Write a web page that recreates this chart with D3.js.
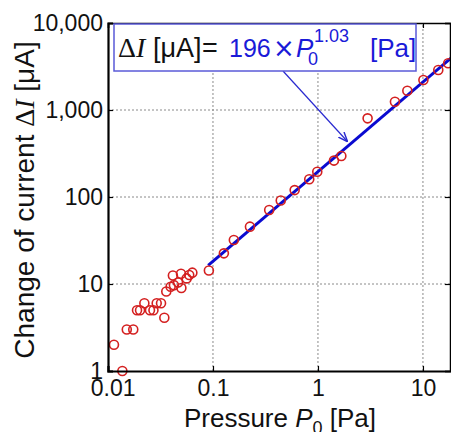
<!DOCTYPE html>
<html>
<head>
<meta charset="utf-8">
<script src="https://cdn.jsdelivr.net/npm/d3@7"></script>
<style>
  body { margin: 0; background: #fff; }
  svg { display: block; font-family: "Liberation Sans", Arial, sans-serif; }
</style>
</head>
<body>
<div id="chart"></div>
<script>
// measured points: pressure P0 [Pa] and change of current dI [uA]
var pressure = [0.0114, 0.0137, 0.0151, 0.0174, 0.0189, 0.0202, 0.0251, 0.0271,
  0.0222, 0.0291, 0.0320, 0.0344, 0.0359, 0.0395, 0.0415, 0.0425, 0.0465,
  0.0496, 0.0500, 0.0561, 0.0594, 0.0636,
  0.0914, 0.127, 0.158, 0.225, 0.343, 0.442, 0.600, 0.826, 0.985, 1.42, 1.67,
  2.97, 5.41, 7.1, 10.1, 14.0, 17.4];
var current = [2.0, 1.0, 3.0, 3.0, 5.0, 5.0, 5.0, 5.0,
  6.0, 6.0, 6.0, 4.1, 8.2, 9.3, 12.5, 9.7, 10.4,
  13.1, 9.0, 11.6, 12.7, 13.5,
  14.3, 22.5, 32, 45.6, 71, 91, 120, 160, 195, 262, 296,
  802, 1245, 1667, 2213, 2884, 3440];

// fitted power law dI = 196 * P0^1.03, drawn from P0 = 0.09
var fitCoef = 196, fitExp = 1.03, fitStart = 0.09;

var xTicks = [0.01, 0.1, 1, 10];
var xTickLabels = ["0.01", "0.1", "1", "10"];
var yTicks = [1, 10, 100, 1000, 10000];
var yTickLabels = ["1", "10", "100", "1,000", "10,000"];

var width = 451, height = 432;
var margin = {top: 23, left: 108, bottom: 61};
var xMax = 18.5;

var svg = d3.select("#chart").append("svg")
  .attr("width", width)
  .attr("height", height);

var x = d3.scaleLog().domain([0.01, xMax]).range([margin.left, 451]);
var y = d3.scaleLog().domain([1, 10000]).range([height - margin.bottom, margin.top]);

var plotRight = x.range()[1];

// dotted grid
svg.selectAll(".gridx")
  .data(xTicks.slice(1))
  .enter().append("line")
    .attr("x1", function(d){ return x(d); })
    .attr("x2", function(d){ return x(d); })
    .attr("y1", y(1)).attr("y2", y(10000))
    .attr("stroke", "#8a8a8a").attr("stroke-width", 1)
    .attr("stroke-dasharray", "2,2");

svg.selectAll(".gridy")
  .data(yTicks.slice(1, -1))
  .enter().append("line")
    .attr("y1", function(d){ return y(d); })
    .attr("y2", function(d){ return y(d); })
    .attr("x1", x(0.01)).attr("x2", plotRight)
    .attr("stroke", "#8a8a8a").attr("stroke-width", 1)
    .attr("stroke-dasharray", "2,2");

// fit line
var fitLine = d3.line()
  .x(function(d){ return x(d); })
  .y(function(d){ return y(fitCoef * Math.pow(d, fitExp)); });

svg.append("path")
  .datum([fitStart, xMax])
  .attr("d", fitLine)
  .attr("fill", "none")
  .attr("stroke", "#0a0ad0")
  .attr("stroke-width", 3);

// data circles
svg.selectAll(".pt")
  .data(pressure)
  .enter().append("circle")
    .attr("cx", function(d){ return x(d); })
    .attr("cy", function(d, i){ return y(current[i]); })
    .attr("r", 4.5)
    .attr("fill", "none")
    .attr("stroke", "#d42020")
    .attr("stroke-width", 1.6);

// axes
var xAxis = svg.append("g")
  .attr("transform", "translate(0," + y(1) + ")")
  .call(d3.axisBottom(x).tickValues(xTicks)
    .tickFormat(function(d, i){ return xTickLabels[i]; })
    .tickSize(-5).tickPadding(9));

var yAxis = svg.append("g")
  .attr("transform", "translate(" + x(0.01) + ",0)")
  .call(d3.axisLeft(y).tickValues(yTicks)
    .tickFormat(function(d, i){ return yTickLabels[i]; })
    .tickSize(-5).tickPadding(5));

var topAxis = svg.append("g")
  .attr("transform", "translate(0," + y(10000) + ")")
  .call(d3.axisTop(x).tickValues(xTicks).tickFormat("").tickSize(-5));

var rightAxis = svg.append("g")
  .attr("transform", "translate(" + (plotRight - 1) + ",0)")
  .call(d3.axisRight(y).tickValues(yTicks).tickFormat("").tickSize(-5));

[xAxis, yAxis].forEach(function(g){
  g.selectAll("text")
    .attr("font-family", "Liberation Sans, Arial, sans-serif")
    .attr("font-size", "23px")
    .attr("fill", "#111");
  g.select(".domain").attr("stroke", "#000").attr("stroke-width", 2.2);
  g.selectAll(".tick line").attr("stroke", "#000").attr("stroke-width", 1.2);
});
[topAxis, rightAxis].forEach(function(g){
  g.select(".domain").attr("stroke", "#000").attr("stroke-width", 1.5);
  g.selectAll(".tick line").attr("stroke", "#000").attr("stroke-width", 1.2);
});
xAxis.select(".tick text").attr("dx", "0.2em");

// axis titles
var ylab = svg.append("text")
  .attr("transform", "translate(34,200) rotate(-90)")
  .attr("text-anchor", "middle")
  .attr("font-size", "28px")
  .attr("fill", "#111");
ylab.append("tspan").text("Change of current ");
ylab.append("tspan").attr("font-family", "Liberation Serif, serif").text("Δ");
ylab.append("tspan").attr("font-family", "Liberation Serif, serif").attr("font-style", "italic").text("I");
ylab.append("tspan").text(" [μA]");

var xlab = svg.append("text")
  .attr("x", 280).attr("y", 427)
  .attr("text-anchor", "middle")
  .attr("font-size", "26px")
  .attr("fill", "#111");
xlab.append("tspan").text("Pressure ");
xlab.append("tspan").attr("font-style", "italic").text("P");
xlab.append("tspan").attr("font-size", "18px").attr("dy", 7).text("0");
xlab.append("tspan").attr("dy", -7).text(" [Pa]");

// equation box with leader arrow
svg.append("defs").append("marker")
  .attr("id", "arrow")
  .attr("viewBox", "0 0 10 10")
  .attr("refX", 9).attr("refY", 5)
  .attr("markerWidth", 8).attr("markerHeight", 8)
  .attr("orient", "auto")
  .append("path")
    .attr("d", "M0,1 L10,5 L0,9")
    .attr("fill", "none")
    .attr("stroke", "#2a2ad0")
    .attr("stroke-width", 1.5);

svg.append("line")
  .attr("x1", 283).attr("y1", 71)
  .attr("x2", 347).attr("y2", 141)
  .attr("stroke", "#2a2ad0")
  .attr("stroke-width", 1.2)
  .attr("marker-end", "url(#arrow)");

svg.append("rect")
  .attr("x", 114).attr("y", 24)
  .attr("width", 302).attr("height", 47)
  .attr("fill", "#fff")
  .attr("stroke", "#5a5ad8")
  .attr("stroke-width", 1.5);

var eq = svg.append("text")
  .attr("y", 57)
  .attr("font-size", "26px")
  .attr("fill", "#111");
eq.append("tspan").attr("x", 118).attr("font-family", "Liberation Serif, serif").attr("font-size", "28px").text("Δ");
eq.append("tspan").attr("font-family", "Liberation Serif, serif").attr("font-size", "28px").attr("font-style", "italic").text("I");
eq.append("tspan").attr("x", 153).attr("font-size", "27px").text("[μA]");
eq.append("tspan").attr("x", 202).attr("font-size", "27px").text("=");
eq.append("tspan").attr("x", 229).attr("fill", "#1a1ad8").attr("font-size", "25px").text("196");
eq.append("tspan").attr("x", 273).attr("fill", "#1a1ad8").attr("font-family", "DejaVu Sans, sans-serif").attr("font-size", "26px").text("×");
eq.append("tspan").attr("x", 296).attr("fill", "#1a1ad8").attr("font-style", "italic").text("P");
eq.append("tspan").attr("x", 308).attr("y", 65).attr("fill", "#1a1ad8").attr("font-size", "18px").text("0");
eq.append("tspan").attr("x", 314).attr("y", 42).attr("fill", "#1a1ad8").attr("font-size", "18px").text("1.03");
eq.append("tspan").attr("x", 370).attr("y", 57).attr("fill", "#1a1ad8").text("[Pa]");
</script>
</body>
</html>
